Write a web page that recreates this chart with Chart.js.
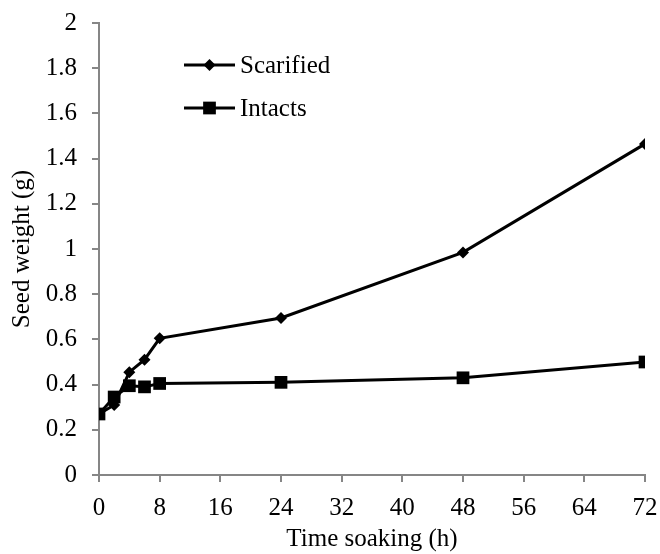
<!DOCTYPE html>
<html>
<head>
    <title>Seed weight vs soaking time</title>
    <script src="https://cdn.jsdelivr.net/npm/chart.js"></script>
    <style>
        body { margin: 0; background: #fff; }
    </style>
</head>
<body>
    <canvas id="soakChart" width="660" height="554"></canvas>
    <script>
        // soaking time (h)
        const hours = [0, 2, 4, 6, 8, 24, 48, 72];
        // seed weight (g)
        const scarified = [0.27, 0.31, 0.455, 0.51, 0.605, 0.695, 0.985, 1.465];
        const intacts = [0.27, 0.345, 0.395, 0.39, 0.405, 0.41, 0.43, 0.50];

        const serif = '"Liberation Serif", "Times New Roman", serif';
        const axisGrey = '#868686';

        const toPoints = (xs, ys) => xs.map((x, i) => ({ x: x, y: ys[i] }));

        // legend drawn inside the plot: line + marker + label
        const innerLegend = {
            id: 'innerLegend',
            afterDraw(chart, args, opts) {
                const ctx = chart.ctx;
                ctx.save();
                chart.data.datasets.forEach((ds, i) => {
                    const y = opts.y + i * opts.gap;
                    ctx.strokeStyle = ds.borderColor;
                    ctx.lineWidth = ds.borderWidth;
                    ctx.beginPath();
                    ctx.moveTo(opts.x, y);
                    ctx.lineTo(opts.x + opts.lineLen, y);
                    ctx.stroke();
                    const cx = opts.x + opts.lineLen / 2;
                    ctx.fillStyle = ds.backgroundColor;
                    ctx.beginPath();
                    if (ds.pointStyle === 'rectRot') {
                        const r = ds.pointRadius;
                        ctx.moveTo(cx, y - r);
                        ctx.lineTo(cx + r, y);
                        ctx.lineTo(cx, y + r);
                        ctx.lineTo(cx - r, y);
                        ctx.closePath();
                    } else {
                        const s = ds.pointRadius * Math.SQRT1_2;
                        ctx.rect(cx - s, y - s, 2 * s, 2 * s);
                    }
                    ctx.fill();
                    ctx.fillStyle = '#000';
                    ctx.font = '25px ' + serif;
                    ctx.textBaseline = 'middle';
                    ctx.fillText(ds.label, opts.x + opts.lineLen + 5, y + 1);
                });
                ctx.restore();
            }
        };

        const fmt = v => String(Math.round(v * 10) / 10);

        new Chart(document.getElementById('soakChart').getContext('2d'), {
            type: 'line',
            data: {
                datasets: [
                    {
                        label: 'Scarified',
                        data: toPoints(hours, scarified),
                        borderColor: '#000',
                        backgroundColor: '#000',
                        borderWidth: 3,
                        pointStyle: 'rectRot',
                        pointRadius: 6,
                        pointBorderWidth: 0,
                        fill: false
                    },
                    {
                        label: 'Intacts',
                        data: toPoints(hours, intacts),
                        borderColor: '#000',
                        backgroundColor: '#000',
                        borderWidth: 3,
                        pointStyle: 'rect',
                        pointRadius: 9,
                        pointBorderWidth: 0,
                        fill: false
                    }
                ]
            },
            plugins: [innerLegend],
            options: {
                responsive: false,
                animation: false,
                layout: { padding: { top: 23, right: 15, left: 0, bottom: 0 } },
                plugins: {
                    legend: { display: false },
                    tooltip: { enabled: false },
                    innerLegend: { x: 184, y: 65, gap: 43, lineLen: 51 }
                },
                scales: {
                    x: {
                        type: 'linear',
                        min: 0,
                        max: 72,
                        border: { color: axisGrey, width: 2 },
                        grid: { drawOnChartArea: false, color: axisGrey, lineWidth: 2, tickLength: 7 },
                        ticks: { stepSize: 8, color: '#000', padding: 11, maxRotation: 0, callback: fmt, font: { family: serif, size: 25 } },
                        title: { display: true, text: 'Time soaking (h)', color: '#000', padding: { top: 4, bottom: 0 }, font: { family: serif, size: 25 } },
                        afterFit(scale) {
                            scale.height = 79;
                            scale.paddingLeft = 0;
                            scale.paddingRight = 0;
                        }
                    },
                    y: {
                        min: 0,
                        max: 2,
                        border: { color: axisGrey, width: 2 },
                        grid: { drawOnChartArea: false, color: axisGrey, lineWidth: 2, tickLength: 7 },
                        ticks: { stepSize: 0.2, color: '#000', padding: 15, callback: fmt, font: { family: serif, size: 25 } },
                        title: { display: true, text: 'Seed weight (g)', color: '#000', padding: { top: 7, bottom: 6 }, font: { family: serif, size: 25 } },
                        afterFit(scale) {
                            scale.width = 99;
                            scale.paddingTop = 0;
                            scale.paddingBottom = 0;
                        }
                    }
                }
            }
        });
    </script>
</body>
</html>
